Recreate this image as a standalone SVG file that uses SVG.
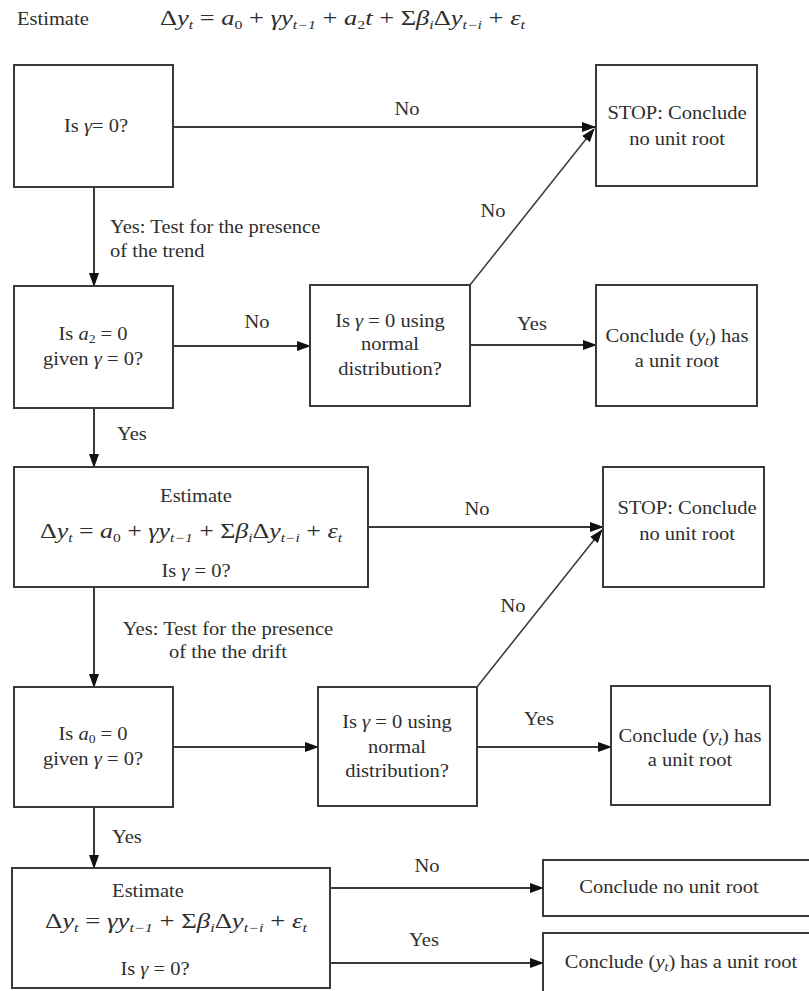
<svg xmlns="http://www.w3.org/2000/svg" width="809" height="991" viewBox="0 0 809 991">
<style>
.box{fill:#fff;stroke:#3a3a3a;stroke-width:2}
.ln{fill:none;stroke:#3a3a3a;stroke-width:2}
.dg{fill:none;stroke:#3a3a3a;stroke-width:1.5}
text{font-family:"Liberation Serif","Times New Roman",serif;fill:#2e2e2e}
.t{font-size:18px;text-anchor:middle}
.l{font-size:18px;text-anchor:start}
.eq{font-size:20px}
.i{font-style:italic}
.s{font-size:12px}
</style>
<defs>
<marker id="ah" markerUnits="userSpaceOnUse" markerWidth="14" markerHeight="10" refX="13" refY="5" orient="auto">
<path d="M0,0 L14,5 L0,10 Z" fill="#111"/>
</marker>
</defs>
<rect width="809" height="991" fill="#fff"/>

<g id="header">
<text class="l" transform="translate(17,0) scale(1.14,1)" x="0" y="25">Estimate</text>
<text class="eq" x="160" y="25" textLength="365" lengthAdjust="spacingAndGlyphs">Δ<tspan class="i">y</tspan><tspan class="s i" dy="4">t</tspan><tspan dy="-4"> = </tspan><tspan class="i">a</tspan><tspan class="s" dy="4">0</tspan><tspan dy="-4"> + </tspan><tspan class="i">γy</tspan><tspan class="s i" dy="4">t−1</tspan><tspan dy="-4"> + </tspan><tspan class="i">a</tspan><tspan class="s" dy="4">2</tspan><tspan class="i" dy="-4">t</tspan> + Σ<tspan class="i">β</tspan><tspan class="s i" dy="4">i</tspan><tspan dy="-4">Δ</tspan><tspan class="i">y</tspan><tspan class="s i" dy="4">t−i</tspan><tspan dy="-4"> + </tspan><tspan class="i">ε</tspan><tspan class="s i" dy="4">t</tspan></text>
</g>

<g id="connectors">
<line class="ln" x1="173" y1="127" x2="595" y2="127" marker-end="url(#ah)"/>
<line class="ln" x1="94" y1="187" x2="94" y2="286" marker-end="url(#ah)"/>
<line class="ln" x1="173" y1="346" x2="310" y2="346" marker-end="url(#ah)"/>
<line class="dg" x1="470" y1="285" x2="594" y2="129" marker-end="url(#ah)"/>
<line class="ln" x1="470" y1="345" x2="596" y2="345" marker-end="url(#ah)"/>
<line class="ln" x1="94" y1="408" x2="94" y2="467" marker-end="url(#ah)"/>
<line class="ln" x1="368" y1="527" x2="603" y2="527" marker-end="url(#ah)"/>
<line class="ln" x1="94" y1="587" x2="94" y2="687" marker-end="url(#ah)"/>
<line class="ln" x1="173" y1="747" x2="318" y2="747" marker-end="url(#ah)"/>
<line class="dg" x1="477" y1="687" x2="602" y2="530" marker-end="url(#ah)"/>
<line class="ln" x1="477" y1="747" x2="611" y2="747" marker-end="url(#ah)"/>
<line class="ln" x1="94" y1="807" x2="94" y2="868" marker-end="url(#ah)"/>
<line class="ln" x1="330" y1="888" x2="543" y2="888" marker-end="url(#ah)"/>
<line class="ln" x1="330" y1="963" x2="543" y2="963" marker-end="url(#ah)"/>
<text class="t" transform="translate(407,0) scale(1.14,1)" x="0" y="115">No</text>
<text class="l" transform="translate(110,0) scale(1.14,1)"><tspan x="0" y="233">Yes: Test for the presence</tspan><tspan x="0" y="257">of the trend</tspan></text>
<text class="t" transform="translate(257,0) scale(1.14,1)" x="0" y="328">No</text>
<text class="t" transform="translate(493,0) scale(1.14,1)" x="0" y="217">No</text>
<text class="t" transform="translate(532,0) scale(1.14,1)" x="0" y="330">Yes</text>
<text class="l" transform="translate(117,0) scale(1.14,1)" x="0" y="440">Yes</text>
<text class="t" transform="translate(477,0) scale(1.14,1)" x="0" y="515">No</text>
<text class="t" transform="translate(228,0) scale(1.14,1)"><tspan x="0" y="635">Yes: Test for the presence</tspan><tspan x="0" y="658">of the the drift</tspan></text>
<text class="t" transform="translate(513,0) scale(1.14,1)" x="0" y="612">No</text>
<text class="t" transform="translate(539,0) scale(1.14,1)" x="0" y="725">Yes</text>
<text class="l" transform="translate(112,0) scale(1.14,1)" x="0" y="843">Yes</text>
<text class="t" transform="translate(427,0) scale(1.14,1)" x="0" y="872">No</text>
<text class="t" transform="translate(424,0) scale(1.14,1)" x="0" y="946">Yes</text>
</g>

<g id="n1">
<rect class="box" x="14" y="65" width="159" height="122"/>
<text class="t" transform="translate(96,0) scale(1.14,1)" x="0" y="132">Is <tspan class="i">γ</tspan>= 0?</text>
</g>
<g id="stop1">
<rect class="box" x="596" y="65" width="161" height="121"/>
<text class="t" transform="translate(677,0) scale(1.14,1)"><tspan x="0" y="119">STOP: Conclude</tspan><tspan x="0" y="145">no unit root</tspan></text>
</g>
<g id="n2">
<rect class="box" x="14" y="286" width="159" height="122"/>
<text class="t" transform="translate(93,0) scale(1.14,1)"><tspan x="0" y="340">Is <tspan class="i">a</tspan><tspan class="s" dy="3">2</tspan><tspan dy="-3"> = 0</tspan></tspan><tspan x="0" y="365">given <tspan class="i">γ</tspan> = 0?</tspan></text>
</g>
<g id="n3">
<rect class="box" x="310" y="285" width="160" height="121"/>
<text class="t" transform="translate(390,0) scale(1.14,1)"><tspan x="0" y="327">Is <tspan class="i">γ</tspan> = 0 using</tspan><tspan x="0" y="350">normal</tspan><tspan x="0" y="375">distribution?</tspan></text>
</g>
<g id="c1">
<rect class="box" x="596" y="285" width="161" height="121"/>
<text class="t" transform="translate(677,0) scale(1.14,1)"><tspan x="0" y="342">Conclude (<tspan class="i">y</tspan><tspan class="s i" dy="3">t</tspan><tspan dy="-3">) has</tspan></tspan><tspan x="0" y="367">a unit root</tspan></text>
</g>
<g id="n4">
<rect class="box" x="14" y="467" width="354" height="120"/>
<text class="t" transform="translate(196,0) scale(1.14,1)" x="0" y="502">Estimate</text>
<text class="eq" x="40" y="538" textLength="302" lengthAdjust="spacingAndGlyphs">Δ<tspan class="i">y</tspan><tspan class="s i" dy="4">t</tspan><tspan dy="-4"> = </tspan><tspan class="i">a</tspan><tspan class="s" dy="4">0</tspan><tspan dy="-4"> + </tspan><tspan class="i">γy</tspan><tspan class="s i" dy="4">t−1</tspan><tspan dy="-4"> + Σ</tspan><tspan class="i">β</tspan><tspan class="s i" dy="4">i</tspan><tspan dy="-4">Δ</tspan><tspan class="i">y</tspan><tspan class="s i" dy="4">t−i</tspan><tspan dy="-4"> + </tspan><tspan class="i">ε</tspan><tspan class="s i" dy="4">t</tspan></text>
<text class="t" transform="translate(196,0) scale(1.14,1)" x="0" y="577">Is <tspan class="i">γ</tspan> = 0?</text>
</g>
<g id="stop2">
<rect class="box" x="603" y="467" width="161" height="120"/>
<text class="t" transform="translate(687,0) scale(1.14,1)"><tspan x="0" y="514">STOP: Conclude</tspan><tspan x="0" y="540">no unit root</tspan></text>
</g>
<g id="n5">
<rect class="box" x="14" y="687" width="159" height="120"/>
<text class="t" transform="translate(93,0) scale(1.14,1)"><tspan x="0" y="740">Is <tspan class="i">a</tspan><tspan class="s" dy="3">0</tspan><tspan dy="-3"> = 0</tspan></tspan><tspan x="0" y="765">given <tspan class="i">γ</tspan> = 0?</tspan></text>
</g>
<g id="n6">
<rect class="box" x="318" y="687" width="159" height="119"/>
<text class="t" transform="translate(397,0) scale(1.14,1)"><tspan x="0" y="728">Is <tspan class="i">γ</tspan> = 0 using</tspan><tspan x="0" y="753">normal</tspan><tspan x="0" y="777">distribution?</tspan></text>
</g>
<g id="c2">
<rect class="box" x="611" y="686" width="159" height="119"/>
<text class="t" transform="translate(690,0) scale(1.14,1)"><tspan x="0" y="742">Conclude (<tspan class="i">y</tspan><tspan class="s i" dy="3">t</tspan><tspan dy="-3">) has</tspan></tspan><tspan x="0" y="766">a unit root</tspan></text>
</g>
<g id="n7">
<rect class="box" x="12" y="868" width="318" height="120"/>
<text class="t" transform="translate(148,0) scale(1.14,1)" x="0" y="897">Estimate</text>
<text class="eq" x="45" y="928" textLength="262" lengthAdjust="spacingAndGlyphs">Δ<tspan class="i">y</tspan><tspan class="s i" dy="4">t</tspan><tspan dy="-4"> = </tspan><tspan class="i">γy</tspan><tspan class="s i" dy="4">t−1</tspan><tspan dy="-4"> + Σ</tspan><tspan class="i">β</tspan><tspan class="s i" dy="4">i</tspan><tspan dy="-4">Δ</tspan><tspan class="i">y</tspan><tspan class="s i" dy="4">t−i</tspan><tspan dy="-4"> + </tspan><tspan class="i">ε</tspan><tspan class="s i" dy="4">t</tspan></text>
<text class="t" transform="translate(155,0) scale(1.14,1)" x="0" y="975">Is <tspan class="i">γ</tspan> = 0?</text>
</g>
<g id="c3">
<rect class="box" x="543" y="860" width="272" height="56"/>
<text class="t" transform="translate(669,0) scale(1.14,1)" x="0" y="893">Conclude no unit root</text>
</g>
<g id="c4">
<rect class="box" x="543" y="933" width="272" height="70"/>
<text class="t" transform="translate(681,0) scale(1.14,1)" x="0" y="968">Conclude (<tspan class="i">y</tspan><tspan class="s i" dy="3">t</tspan><tspan dy="-3">) has a unit root</tspan></text>
</g>
</svg>
